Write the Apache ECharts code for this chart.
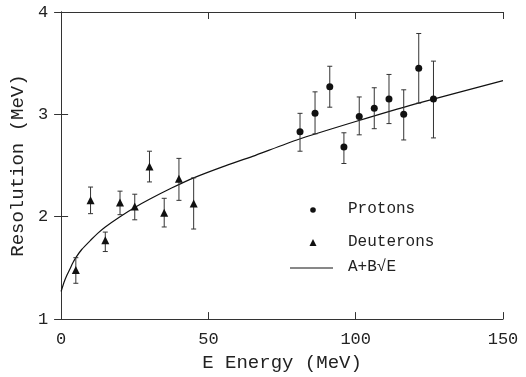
<!DOCTYPE html>
<html>
<head>
<meta charset="utf-8">
<script src="https://cdn.jsdelivr.net/npm/echarts@6/dist/echarts.min.js"></script>
<style>html,body{margin:0;padding:0;background:#fff}#c{width:526px;height:377px}</style>
</head>
<body>
<div id="c"></div>
<script>
// Deuterons (triangles)
var deutE  = [5, 10, 15, 20, 25, 30, 35, 40, 45];
var deutR  = [1.48, 2.16, 1.77, 2.14, 2.10, 2.49, 2.04, 2.37, 2.13];
var deutLo = [1.35, 2.03, 1.66, 2.02, 1.97, 2.34, 1.90, 2.16, 1.88];
var deutHi = [1.60, 2.29, 1.85, 2.25, 2.22, 2.64, 2.18, 2.57, 2.38];
// Protons (dots)
var protE  = [81.1, 86.2, 91.2, 96.0, 101.2, 106.3, 111.3, 116.3, 121.4, 126.4];
var protR  = [2.83, 3.01, 3.27, 2.68, 2.98, 3.06, 3.15, 3.00, 3.45, 3.15];
var protLo = [2.64, 2.81, 3.07, 2.52, 2.80, 2.86, 2.91, 2.75, 3.11, 2.77];
var protHi = [3.01, 3.22, 3.47, 2.82, 3.17, 3.26, 3.39, 3.24, 3.79, 3.52];
// Fitted curve A+B*sqrt(E)
var curveE = [0, 1, 2, 3, 4, 5, 7, 10, 12.5, 15, 20, 25, 30, 37.5, 45, 55, 65, 80, 100, 120, 150];
var curveR = [1.27, 1.36, 1.43, 1.49, 1.55, 1.60, 1.68, 1.77, 1.84, 1.90, 2.00, 2.09, 2.17, 2.28, 2.38, 2.49, 2.59, 2.75, 2.93, 3.10, 3.33];
// Axis ticks
var xTicks = [0, 50, 100, 150];
var yTicks = [1, 2, 3, 4];

var FONT = 'Liberation Mono';
var INK = '#222';

function zip2(a, b) { return a.map(function (v, i) { return [v, b[i]]; }); }
function zip3(a, b, c) { return a.map(function (v, i) { return [v, b[i], c[i]]; }); }

function errRender(params, api) {
  var x = api.value(0), lo = api.value(1), hi = api.value(2);
  var pLo = api.coord([x, lo]), pHi = api.coord([x, hi]);
  var w = 2.5;
  var st = { stroke: '#333', lineWidth: 1 };
  return {
    type: 'group',
    children: [
      { type: 'line', shape: { x1: pLo[0], y1: pLo[1], x2: pHi[0], y2: pHi[1] }, style: st },
      { type: 'line', shape: { x1: pLo[0] - w, y1: pLo[1], x2: pLo[0] + w, y2: pLo[1] }, style: st },
      { type: 'line', shape: { x1: pHi[0] - w, y1: pHi[1], x2: pHi[0] + w, y2: pHi[1] }, style: st }
    ]
  };
}

var chart = echarts.init(document.getElementById('c'), null, { renderer: 'canvas' });
var axisLineStyle = { color: '#333', width: 1 };
var option = {
  animation: false,
  backgroundColor: '#fff',
  grid: { left: 60, right: 23, top: 12, bottom: 53 },
  xAxis: [{
    type: 'value', min: xTicks[0], max: xTicks[xTicks.length - 1], interval: 50,
    position: 'bottom',
    name: 'E Energy (MeV)', nameLocation: 'middle', nameGap: 24,
    nameTextStyle: { fontFamily: FONT, fontSize: 19, color: INK },
    axisLine: { show: true, lineStyle: axisLineStyle },
    axisTick: { show: true, inside: true, length: 7, lineStyle: axisLineStyle },
    axisLabel: { fontFamily: FONT, fontSize: 17, color: INK, margin: 12 },
    splitLine: { show: false }
  }, {
    type: 'value', min: xTicks[0], max: xTicks[xTicks.length - 1], interval: 50,
    position: 'top',
    axisLine: { show: true, lineStyle: axisLineStyle },
    axisTick: { show: true, inside: true, length: 7, lineStyle: axisLineStyle },
    axisLabel: { show: false },
    splitLine: { show: false }
  }],
  yAxis: [{
    type: 'value', min: yTicks[0], max: yTicks[yTicks.length - 1], interval: 1,
    position: 'left',
    name: 'Resolution (MeV)', nameLocation: 'middle', nameGap: 28,
    nameTextStyle: { fontFamily: FONT, fontSize: 19, color: INK },
    axisLine: { show: true, lineStyle: axisLineStyle },
    axisTick: { show: true, inside: true, length: 7, lineStyle: axisLineStyle },
    axisLabel: { fontFamily: FONT, fontSize: 17, color: INK, margin: 13 },
    splitLine: { show: false }
  }, {
    type: 'value', min: yTicks[0], max: yTicks[yTicks.length - 1], interval: 1,
    position: 'right',
    axisLine: { show: true, lineStyle: axisLineStyle },
    axisTick: { show: true, inside: true, length: 7, lineStyle: axisLineStyle },
    axisLabel: { show: false },
    splitLine: { show: false }
  }],
  series: [
    {
      name: 'A+B√E', type: 'line', data: zip2(curveE, curveR), smooth: 0.2,
      showSymbol: false, symbol: 'none',
      lineStyle: { color: '#111', width: 1.2 }, z: 2
    },
    {
      name: 'DeutErr', type: 'custom', renderItem: errRender,
      data: zip3(deutE, deutLo, deutHi), encode: { x: 0, y: [1, 2] }, z: 3
    },
    {
      name: 'ProtErr', type: 'custom', renderItem: errRender,
      data: zip3(protE, protLo, protHi), encode: { x: 0, y: [1, 2] }, z: 3
    },
    {
      name: 'Deuterons', type: 'scatter', data: zip2(deutE, deutR),
      symbol: 'triangle', symbolSize: [8, 8],
      itemStyle: { color: '#111', opacity: 1 }, z: 4
    },
    {
      name: 'Protons', type: 'scatter', data: zip2(protE, protR),
      symbol: 'circle', symbolSize: 7,
      itemStyle: { color: '#111', opacity: 1 }, z: 4
    }
  ],
  graphic: [
    { type: 'circle', shape: { cx: 313, cy: 210, r: 2.8 }, style: { fill: '#111' } },
    { type: 'text', left: 348, top: 201, style: { text: 'Protons', font: '16px "Liberation Mono"', fill: INK } },
    { type: 'polygon', shape: { points: [[313, 239], [309.5, 246], [316.5, 246]] }, style: { fill: '#111' } },
    { type: 'text', left: 348, top: 234, style: { text: 'Deuterons', font: '16px "Liberation Mono"', fill: INK } },
    { type: 'line', shape: { x1: 290, y1: 268, x2: 333, y2: 268 }, style: { stroke: '#111', lineWidth: 1 } },
    { type: 'text', left: 348, top: 259, style: { text: 'A+B√E', font: '16px "Liberation Mono"', fill: INK } }
  ]
};
chart.setOption(option);
</script>
</body>
</html>
